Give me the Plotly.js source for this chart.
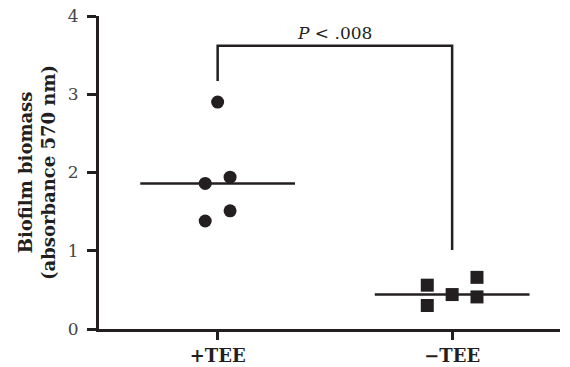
<!DOCTYPE html>
<html>
<head>
<meta charset="utf-8">
<script src="https://cdn.plot.ly/plotly-3.0.1.min.js"></script>
<style>html,body{margin:0;padding:0;background:#fff}#chart{width:570px;height:367px}</style>
</head>
<body>
<div id="chart"></div>
<script>
// Categories
const categories = ["+TEE", "\u2212TEE"];
const categoryPos = [1, 2];

// +TEE group (circles)
const plusX = [1, 0.947, 1.053, 1.053, 0.947];
const plusY = [2.90, 1.86, 1.94, 1.51, 1.38];
const plusMedian = 1.86;

// -TEE group (squares)
const minusX = [1.894, 1.894, 2, 2.106, 2.106];
const minusY = [0.56, 0.30, 0.44, 0.66, 0.41];
const minusMedian = 0.44;

// Median line half-width (in category units)
const medianHalf = 0.33;

// Significance bracket
const bracketX = [1, 1, 2, 2];
const bracketY = [3.17, 3.62, 3.62, 1.01];
const pText = "<i>P</i> < .008";

// Axis ticks
const yTicks = [0, 1, 2, 3, 4];

const ink = "#231f20";
const font = "'DejaVu Serif', 'Liberation Serif', serif";

const traces = [
  {x: [categoryPos[0] - medianHalf, categoryPos[0] + medianHalf], y: [plusMedian, plusMedian],
   mode: "lines", line: {color: ink, width: 2.5}, hoverinfo: "skip"},
  {x: [categoryPos[1] - medianHalf, categoryPos[1] + medianHalf], y: [minusMedian, minusMedian],
   mode: "lines", line: {color: ink, width: 2.5}, hoverinfo: "skip"},
  {x: bracketX, y: bracketY, mode: "lines", line: {color: ink, width: 2.5}, hoverinfo: "skip"},
  {x: plusX, y: plusY, mode: "markers", marker: {symbol: "circle", size: 13, color: ink}},
  {x: minusX, y: minusY, mode: "markers", marker: {symbol: "square", size: 13, color: ink}}
];

const layout = {
  width: 570, height: 367,
  margin: {l: 99, r: 10, t: 16, b: 38},
  paper_bgcolor: "#fff", plot_bgcolor: "#fff",
  showlegend: false,
  font: {family: font, color: ink, size: 16},
  xaxis: {
    range: [0.494, 2.46], tickvals: categoryPos, ticktext: categories,
    showgrid: false, zeroline: false, showline: true, linecolor: ink, linewidth: 3,
    ticks: "outside", ticklen: 8, tickwidth: 3, tickcolor: ink,
    tickfont: {family: font, size: 18, weight: "bold", color: ink},
    fixedrange: true
  },
  yaxis: {
    range: [0, 4], tickvals: yTicks,
    showgrid: false, zeroline: false, showline: true, linecolor: ink, linewidth: 3,
    ticks: "outside", ticklen: 9, tickwidth: 3, tickcolor: ink,
    ticklabelstandoff: 5,
    tickfont: {family: font, size: 17, color: "#444"},
    title: {text: "Biofilm biomass<br>(absorbance 570 nm)", font: {family: font, size: 18, weight: "bold", color: ink}, standoff: 8},
    fixedrange: true
  },
  annotations: [{
    x: 1.5, y: 3.62, xref: "x", yref: "y", text: pText, showarrow: false,
    yanchor: "bottom", yshift: 1, font: {family: font, size: 17, color: ink}
  }]
};

Plotly.newPlot("chart", traces, layout, {displayModeBar: false, staticPlot: true});
</script>
</body>
</html>
